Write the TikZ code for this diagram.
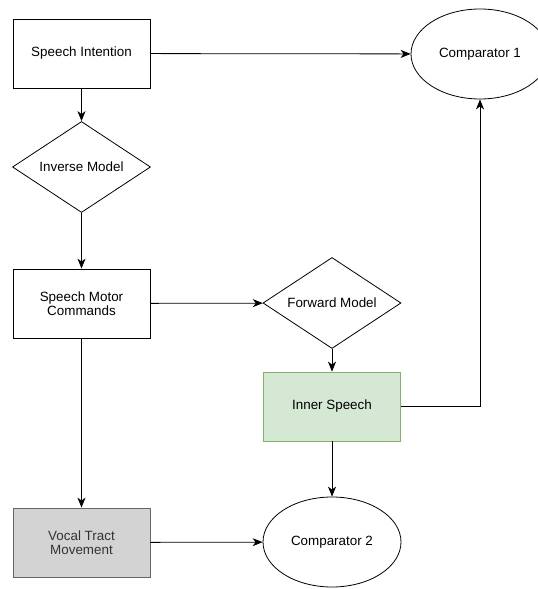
\documentclass[tikz,border=0pt]{standalone}
\usepackage{fontspec}
\setmainfont{Liberation Sans}
\usetikzlibrary{shapes.geometric,arrows.meta}
\begin{document}
\begin{tikzpicture}[x=1pt,y=-1pt,
  every node/.style={font=\fontsize{13.4}{15.5}\selectfont, align=center, inner sep=0pt},
  boxnode/.style={draw, line width=0.8pt, rectangle, minimum width=137pt, minimum height=69pt},
  diamondnode/.style={draw, line width=0.8pt, diamond, minimum width=138pt, minimum height=91pt, aspect=1.5},
  ellnode/.style={draw, line width=0.8pt, ellipse, minimum width=138pt, minimum height=90pt},
  conn/.style={draw, line width=0.8pt, -{Stealth[length=10pt,width=8pt,inset=3pt]}}
]
\useasboundingbox (0,0) rectangle (538,589);
\node[boxnode] (si) at (81.5,53.5) {\raisebox{-1.5pt}{Speech Intention}};
\node[ellnode] (c1) at (480,54) {\raisebox{-1.5pt}{Comparator 1}};
\node[diamondnode] (im) at (81.5,167) {\raisebox{-1.5pt}{Inverse Model}};
\node[boxnode] (smc) at (81.5,303.5) {\raisebox{-1.5pt}{Speech Motor}\\Commands};
\node[diamondnode] (fm) at (332,303) {\raisebox{-1.5pt}{Forward Model}};
\node[boxnode, fill={rgb,255:red,213;green,232;blue,212}, draw={rgb,255:red,130;green,179;blue,102}] (is) at (332,406.5) {\raisebox{-1.5pt}{Inner Speech}};
\node[boxnode, fill={rgb,255:red,211;green,211;blue,211}, draw={rgb,255:red,102;green,102;blue,102}, text={rgb,255:red,51;green,51;blue,51}] (vt) at (81.5,542.5) {\raisebox{-1.5pt}{Vocal Tract}\\Movement};
\node[ellnode] (c2) at (332,542) {\raisebox{-1.5pt}{Comparator 2}};
\draw[conn] (si) -- (c1);
\draw[conn] (si) -- (im);
\draw[conn] (im) -- (smc);
\draw[conn] (smc) -- (fm);
\draw[conn] (fm) -- (is);
\draw[conn] (is.east) -| (c1.south);
\draw[conn] (is) -- (c2);
\draw[conn] (smc) -- (vt);
\draw[conn] (vt) -- (c2);
\end{tikzpicture}
\end{document}
